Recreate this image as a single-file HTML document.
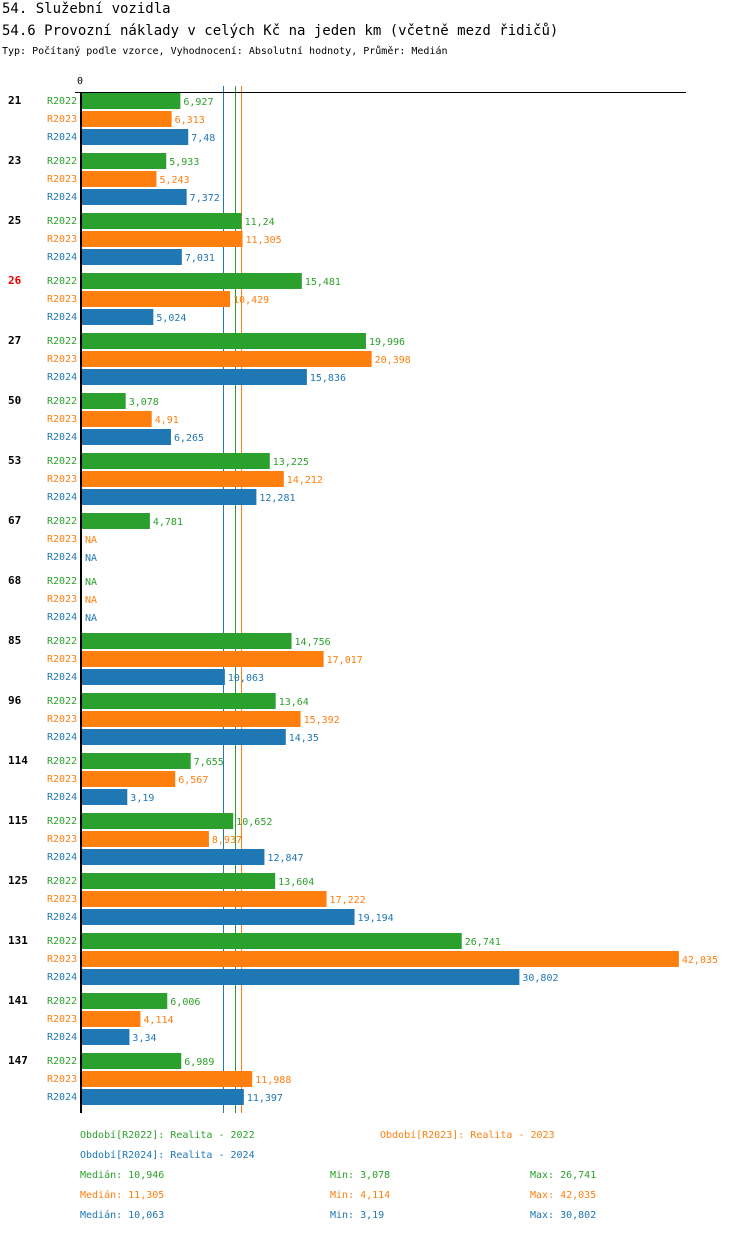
<!DOCTYPE html>
<html><head><meta charset="utf-8"><style>
body{margin:0;background:#fff;width:750px;height:1232px;overflow:hidden;font-family:"DejaVu Sans Mono","Liberation Mono",monospace}
svg text{font-family:"DejaVu Sans Mono","Liberation Mono",monospace}
</style></head><body>
<svg id="c" width="750" height="1232">
<text x="2" y="13" font-size="14">54. Služební vozidla</text>
<text x="2" y="35" font-size="14">54.6 Provozní náklady v celých Kč na jeden km (včetně mezd řidičů)</text>
<text x="2" y="54" font-size="10">Typ: Počítaný podle vzorce, Vyhodnocení: Absolutní hodnoty, Průměr: Medián</text>
</svg>
<script>
const categories=["21","23","25","26","27","50","53","67","68","85","96","114","115","125","131","141","147"];
const series=["R2022","R2023","R2024"];
const v2022=[6.927,5.933,11.24,15.481,19.996,3.078,13.225,4.781,null,14.756,13.64,7.655,10.652,13.604,26.741,6.006,6.989];
const v2023=[6.313,5.243,11.305,10.429,20.398,4.91,14.212,null,null,17.017,15.392,6.567,8.937,17.222,42.035,4.114,11.988];
const v2024=[7.48,7.372,7.031,5.024,15.836,6.265,12.281,null,null,10.063,14.35,3.19,12.847,19.194,30.802,3.34,11.397];
const medians=[10.946,11.305,10.063];
const mins=[3.078,4.114,3.19];
const maxs=[26.741,42.035,30.802];
const colors=["#2ca02c","#ff7f0e","#1f77b4"];
const vals=[v2022,v2023,v2024];
const svg=document.getElementById('c');const NS="http://www.w3.org/2000/svg";
const x0=82,k=14.2;const xs=v=>x0+v*k;
const fmt=v=>String(v).replace('.',',');
function mk(t,a,txt){const e=document.createElementNS(NS,t);for(const n in a)e.setAttribute(n,a[n]);if(txt!=null)e.textContent=txt;svg.appendChild(e);return e;}
let e;
e=mk('text',{x:77,y:84,'font-size':10},'0');


medians.forEach((m,j)=>{
 const lx=Math.round(xs(m))-2+0.5;
 e=mk('line',{x1:lx,x2:lx,y1:86,y2:1113,stroke:colors[j],'stroke-width':1,'shape-rendering':'crispEdges'});
 
 
});
categories.forEach((c,i)=>{
 const gy=93+i*60;
 e=mk('text',{x:8,y:gy+11,'font-size':11,'font-weight':'bold',fill:c==="26"?"#e00":"#000"},c);
 
 
 series.forEach((s,j)=>{
  const y=gy+j*18,v=vals[j][i];
  e=mk('text',{x:47,y:y+11,'font-size':10,fill:colors[j]},s);
  
  
  if(v!=null){
   e=mk('rect',{x:x0,y:y,width:v*k,height:16,fill:colors[j]});
   
   
  }
  e=mk('text',{x:v!=null?xs(v)+3:x0+3,y:y+12,'font-size':10,fill:colors[j]},v!=null?fmt(v):'NA');
  
  
 });
});
e=mk('line',{x1:75,x2:686,y1:92.5,y2:92.5,stroke:'#000','stroke-width':1,'shape-rendering':'crispEdges'});


e=mk('line',{x1:81,x2:81,y1:92,y2:1113,stroke:'#000','stroke-width':2,'shape-rendering':'crispEdges'});


const leg=[["Období[R2022]: Realita - 2022",80,1138,0],["Období[R2023]: Realita - 2023",380,1138,1],["Období[R2024]: Realita - 2024",80,1158,2]];
leg.forEach(l=>{e=mk('text',{x:l[1],y:l[2],'font-size':10,fill:colors[l[3]]},l[0]);
 
 });
series.forEach((s,j)=>{const y=1178+j*20;
 e=mk('text',{x:80,y:y,'font-size':10,fill:colors[j]},'Medián: '+fmt(medians[j]));
 
 
 e=mk('text',{x:330,y:y,'font-size':10,fill:colors[j]},'Min: '+fmt(mins[j]));
 
 
 e=mk('text',{x:530,y:y,'font-size':10,fill:colors[j]},'Max: '+fmt(maxs[j]));
 
 
});
</script>
</body></html>
